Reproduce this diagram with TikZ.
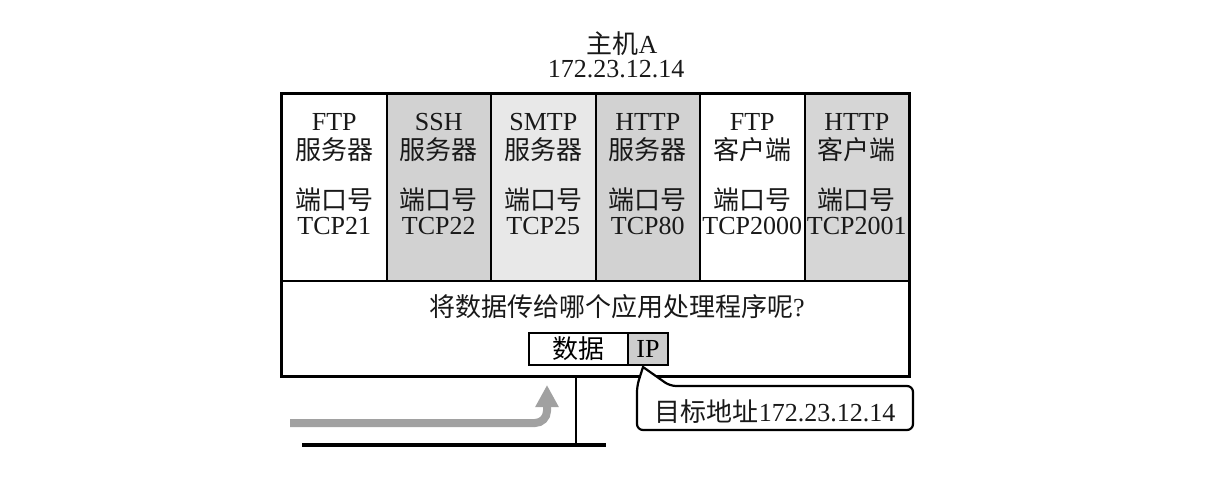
\documentclass[tikz,border=0pt]{standalone}
\usepackage{fontspec}
\setmainfont{Liberation Serif}
\newfontfamily\cjk{Noto Sans CJK SC}
\usetikzlibrary{arrows.meta}
\definecolor{gA}{HTML}{D2D2D2}
\definecolor{gB}{HTML}{E8E8E8}
\definecolor{gC}{HTML}{D6D6D6}
\definecolor{gIP}{HTML}{CDCDCD}
\begin{document}
\begin{tikzpicture}[x=1pt,y=-1pt,
  font=\fontsize{26}{27}\selectfont,
  colbox/.style={draw=black,line width=2pt,minimum width=104.5pt,minimum height=187pt,inner sep=0pt},
  lbl/.style={anchor=base,inner sep=0pt,text=black!90},
  lat/.style={text height=18pt,text depth=1pt},
  cj/.style={font=\fontsize{26}{27}\selectfont\cjk,text height=21pt,text depth=3pt},
  pkt/.style={draw=black,line width=1.8pt,minimum height=32pt,inner sep=0pt},
]
\useasboundingbox (0,0) rectangle (1227,482);
\fill[white] (0,0) rectangle (1227,482);

% title
\node[lbl] (hostname) at (622,53) {{\cjk 主机}A};
\node[lbl] (hostip) at (616,77) {172.23.12.14};

% columns
\node[colbox,fill=white] (c1) at (334.25,187.5) {};
\node[colbox,fill=gA]    (c2) at (438.75,187.5) {};
\node[colbox,fill=gB]    (c3) at (543.25,187.5) {};
\node[colbox,fill=gA]    (c4) at (647.75,187.5) {};
\node[colbox,fill=white] (c5) at (752.25,187.5) {};
\node[colbox,fill=gC]    (c6) at (856.75,187.5) {};

% lower section and outer frame
\node[draw=black,line width=2pt,minimum width=627pt,minimum height=95pt,inner sep=0pt] (lower) at (595.5,328.5) {};
\draw[line width=2.6pt] (c1.north west) rectangle (lower.south east);

% column labels
\foreach \n/\a/\b/\p in {c1/FTP/服务器/TCP21, c2/SSH/服务器/TCP22, c3/SMTP/服务器/TCP25,
                         c4/HTTP/服务器/TCP80, c5/FTP/客户端/TCP2000, c6/HTTP/客户端/TCP2001}{
  \path (\n.north) ++(0,37) node[lbl,lat] (\n-a) {\a};
  \path (\n.north) ++(0,66) node[lbl,cj] (\n-b) {\b};
  \path (\n.north) ++(0,116) node[lbl,cj] (\n-c) {端口号};
  \path (\n.north) ++(0,141) node[lbl,lat] (\n-d) {\p};
}

% question
\node[lbl] (question) at (617,316) {{\cjk 将数据传给哪个应用处理程序呢}?};

% packet
\node[pkt,fill=white,minimum width=99pt,font=\fontsize{26}{27}\selectfont\cjk] (data) at (578.5,349) {数据};
\node[pkt,fill=gIP,minimum width=40pt] (ip) at (648,349) {IP};

% network
\coordinate (v1) at (576,376);
\coordinate (v2) at (576,445);
\coordinate (b1) at (302,445);
\coordinate (b2) at (606,445);
\draw[line width=2pt] (v1) -- (v2);
\draw[line width=4pt] (b1) -- (b2);

% gray arrow
\coordinate (a1) at (290,423);
\coordinate (a2) at (547,385);
\draw[line width=8pt,black!37,-{Triangle[length=22pt,width=22pt]}]
  (a1) -- (535,423) to[out=0,in=-90] (547,411) -- (a2);

% callout
\coordinate (tip) at (643,367);
\draw[line width=2.2pt,fill=white]
  (tip) [rounded corners=6pt] -- (670,386) -- (913,386) -- (913,430) -- (637,430) -- (637,386) [sharp corners] -- cycle;
\node[lbl] (target) at (775,421) {{\cjk 目标地址}172.23.12.14};
\end{tikzpicture}
\end{document}
